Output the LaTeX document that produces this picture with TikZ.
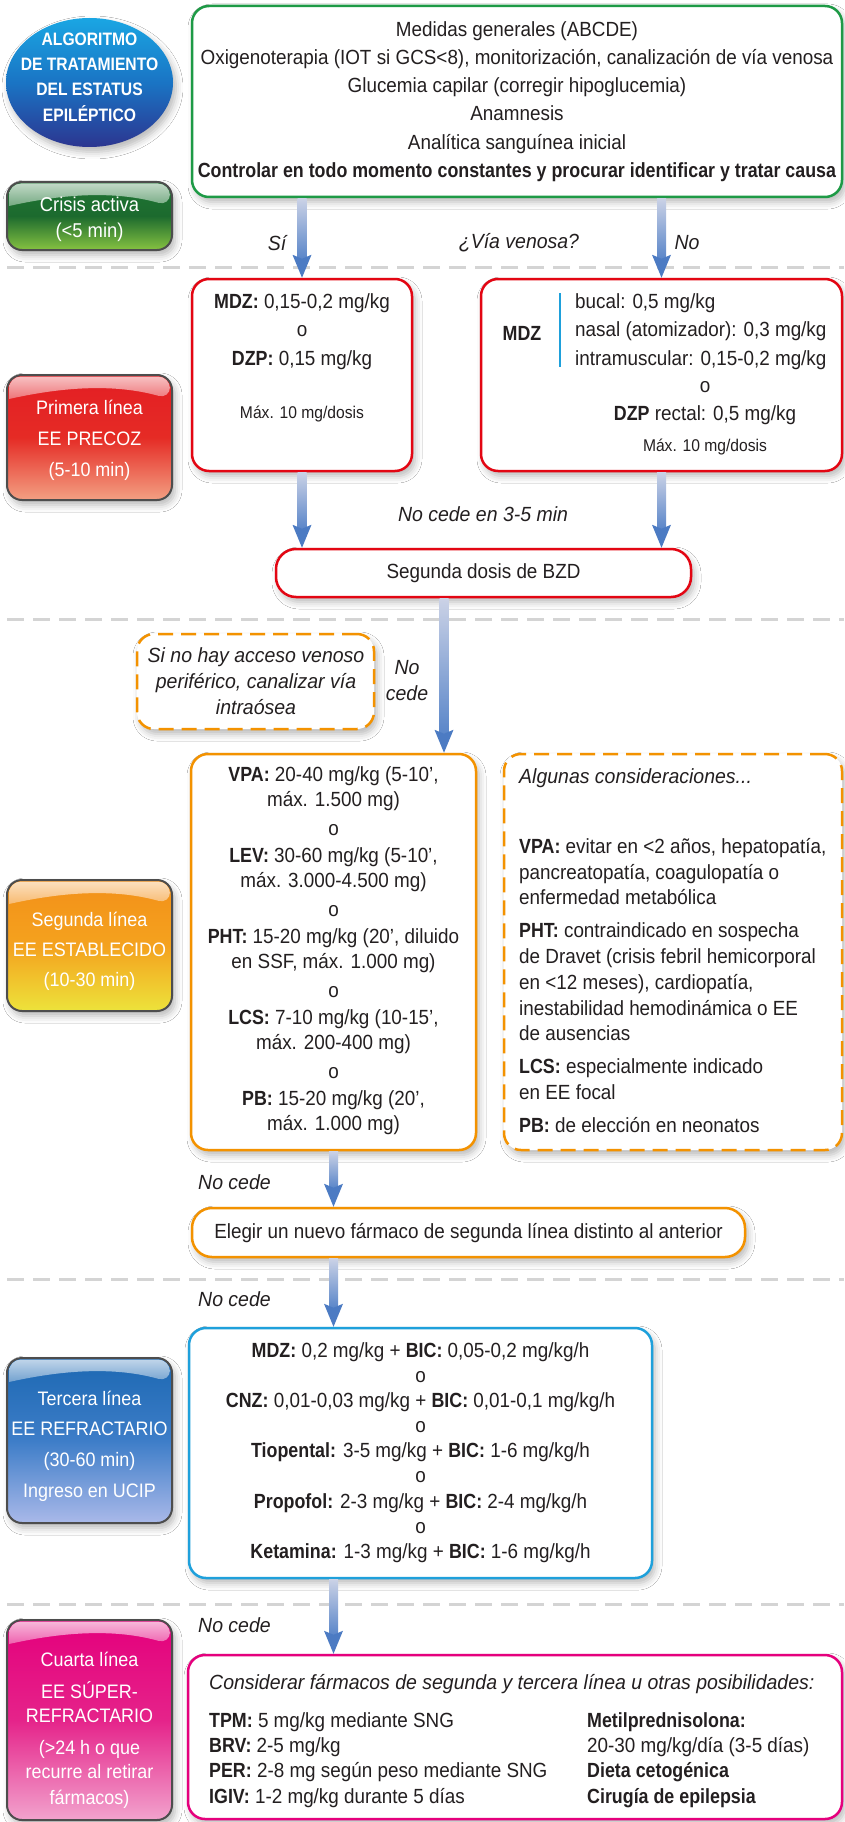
\documentclass[tikz,border=0pt]{standalone}
\usepackage{fontspec}
\setmainfont{Liberation Sans}[
  UprightFeatures={FakeStretch=0.92},
  ItalicFeatures={FakeStretch=0.95},
  BoldFeatures={FakeStretch=0.87},
  BoldItalicFeatures={FakeStretch=0.87}]
\usetikzlibrary{calc,shapes.geometric,shadows.blur}

\definecolor{txt}{HTML}{231F20}
\definecolor{cgreen}{HTML}{1E9A46}
\definecolor{cred}{HTML}{E30613}
\definecolor{corange}{HTML}{F39200}
\definecolor{cblue}{HTML}{1EA0DB}
\definecolor{cmag}{HTML}{E5007D}
\definecolor{dashgray}{HTML}{D4D4D4}
\definecolor{arrowtop}{HTML}{CBD2E6}
\definecolor{arrowbot}{HTML}{5A86C9}
\definecolor{arrowhead}{HTML}{4C7BC3}
\definecolor{stageedge}{HTML}{4D4D4D}
% title disc
\definecolor{discA}{HTML}{1AA6E3}
\definecolor{discB}{HTML}{1A74C4}
\definecolor{discC}{HTML}{2C3590}
% stage label shadings (top / middle / bottom)
\definecolor{grnA}{HTML}{1F7534}
\definecolor{grnB}{HTML}{1C6A2E}
\definecolor{grnC}{HTML}{86C241}
\definecolor{redA}{HTML}{E31E24}
\definecolor{redB}{HTML}{E52B25}
\definecolor{redC}{HTML}{F3A083}
\definecolor{orgA}{HTML}{F39019}
\definecolor{orgB}{HTML}{F4A21E}
\definecolor{orgC}{HTML}{EDE33B}
\definecolor{bluA}{HTML}{1C68B2}
\definecolor{bluB}{HTML}{3D7DC8}
\definecolor{bluC}{HTML}{AAB9E9}
\definecolor{magA}{HTML}{E4007C}
\definecolor{magB}{HTML}{E5238A}
\definecolor{magC}{HTML}{F2A3CD}

\tikzset{
  softshadow/.style={blur shadow={shadow xshift=3pt, shadow yshift=-5pt,
      shadow blur radius=7pt, shadow opacity=28}},
  flowbox/.style={draw, line width=2.5pt, rounded corners=17pt, fill=white,
      inner sep=0pt, softshadow},
  dashbox/.style={flowbox, dash pattern=on 15pt off 8pt},
  body/.style={text=txt, font=\fontsize{20.5}{25}\selectfont, inner sep=0pt, align=center},
  smallnote/.style={text=txt, font=\fontsize{17}{20}\selectfont, inner sep=0pt},
  note/.style={text=txt, font=\fontsize{20.5}{26}\selectfont\itshape, inner sep=0pt, align=center},
  sep/.style={draw=dashgray, line width=3pt, dash pattern=on 17pt off 9pt},
  stage/.style={draw=stageedge, line width=2pt, rounded corners=15pt, inner sep=0pt,
      minimum width=165pt, softshadow},
  stagetext/.style={text=white, inner sep=0pt, align=center,
      font=\fontsize{19.5}{30}\selectfont},
  titledisc/.style={ellipse, minimum width=167pt, minimum height=129pt, inner sep=0pt,
      top color=discA, bottom color=discC, middle color=discB, softshadow},
}

% glossy highlight band across the top of a stage label
\newcommand\gloss[2]{%
  \shade[top color=white!72!#2, bottom color=white!38!#2]
    ($(#1.north west)+(3,25)$) [rounded corners=12pt]
    -- ($(#1.north west)+(3,2.5)$) -- ($(#1.north east)+(-3,2.5)$)
    -- ($(#1.north east)+(-3,25)$) [sharp corners]
    .. controls ($(#1.north east)+(-50,12)$) and ($(#1.north west)+(70,10)$)
    .. ($(#1.north west)+(3,25)$) -- cycle;
}

% thick shaded flow arrow from #1 down to the tip #2
\newcommand\flowarrow[2]{%
  \shade[top color=arrowtop, bottom color=arrowbot]
    ($(#1)+(-4.5,0)$) rectangle ($(#2)+(4.5,-19)$);
  \fill[arrowhead] ($(#2)+(-9.5,-23)$) -- (#2) -- ($(#2)+(9.5,-23)$)
    -- ($(#2)+(0,-19)$) -- cycle;
}

\begin{document}
\begin{tikzpicture}[x=1pt,y=-1pt]
\useasboundingbox (0,0) rectangle (844,1822);
\fill[white] (0,0) rectangle (844,1822);

% phase separators
\foreach \yy in {267,619,1279,1604} \draw[sep] (7,\yy) -- (844,\yy);

% ---------------- title disc ----------------
\node[titledisc] (title) at (89.5,82.5) {};
\node[stagetext, font=\fontsize{18}{25.3}\selectfont\bfseries] (titleT) at (89.5,77)
  {ALGORITMO\\DE TRATAMIENTO\\DEL ESTATUS\\EPILÉPTICO};

% ---------------- stage labels ----------------
\node[stage, top color=grnA, bottom color=grnC, middle color=grnB,
      minimum height=68pt] (stCrisis) at (89.5,216) {};
\gloss{stCrisis}{grnA}
\node[stagetext, font=\fontsize{20}{26}\selectfont] (stCrisisT) at (89.5,219)
  {Crisis activa\\(<5 min)};

\node[stage, top color=redA, bottom color=redC, middle color=redB,
      minimum height=125pt] (stFirst) at (89.5,437.5) {};
\gloss{stFirst}{redA}
\node[stagetext, font=\fontsize{19.5}{31}\selectfont] (stFirstT) at (89.5,440)
  {Primera línea\\EE PRECOZ\\(5-10 min)};

\node[stage, top color=orgA, bottom color=orgC, middle color=orgB,
      minimum height=131pt] (stSecond) at (89.5,945.5) {};
\gloss{stSecond}{orgA}
\node[stagetext] (stSecondT) at (89.5,951)
  {Segunda línea\\EE ESTABLECIDO\\(10-30 min)};

\node[stage, top color=bluA, bottom color=bluC, middle color=bluB,
      minimum height=165pt] (stThird) at (89.5,1440.5) {};
\gloss{stThird}{bluA}
\node[stagetext, font=\fontsize{19.5}{30.7}\selectfont] (stThirdT) at (89.5,1446)
  {Tercera línea\\EE REFRACTARIO\\(30-60 min)\\Ingreso en UCIP};

\node[stage, top color=magA, bottom color=magC, middle color=magB,
      minimum height=200pt] (stFourth) at (89.5,1720) {};
\gloss{stFourth}{magA}
\node[stagetext, font=\fontsize{19.5}{24}\selectfont] (stFourthT) at (89.5,1730)
  {Cuarta línea\\[8pt]EE SÚPER-\\REFRACTARIO\\[8pt](>24 h o que\\recurre al retirar\\[2pt]fármacos)};

% ---------------- general measures ----------------
\node[flowbox, draw=cgreen, minimum width=650pt, minimum height=191pt] (general) at (517,101.5) {};
\node[body, font=\fontsize{20.5}{28.2}\selectfont] (generalT) at (517,101.5)
  {Medidas generales (ABCDE)\\
   Oxigenoterapia (IOT si GCS<8), monitorización, canalización de vía venosa\\
   Glucemia capilar (corregir hipoglucemia)\\
   Anamnesis\\
   Analítica sanguínea inicial\\
   \textbf{Controlar en todo momento constantes y procurar identificar y tratar causa}};

\node[note] (lblSi) at (277,243) {Sí};
\node[note] (lblVia) at (519,243) {¿Vía venosa?};
\node[note] (lblNo) at (687,243) {No};

% ---------------- first line ----------------
\node[flowbox, draw=cred, minimum width=220pt, minimum height=192pt] (mdzA) at (302,375) {};
\node[body, font=\fontsize{20.5}{28.5}\selectfont] (mdzAT) at (302,331.5)
  {\textbf{MDZ:} 0,15-0,2 mg/kg\\o\\\textbf{DZP:} 0,15 mg/kg};
\node[smallnote] (mdzAmax) at (302,414) {Máx. 10 mg/dosis};

\node[flowbox, draw=cred, minimum width=361pt, minimum height=192pt] (mdzB) at (661.5,375) {};
\node[body, font=\fontsize{20.5}{25}\selectfont\bfseries] (mdzBlbl) at (522,333) {MDZ};
\draw[cblue, line width=2.5pt] (560,293) -- (560,367);
\node[body, align=left, anchor=west, font=\fontsize{20.5}{28.5}\selectfont] (mdzBroutes) at (575,331.5)
  {bucal: 0,5 mg/kg\\nasal (atomizador): 0,3 mg/kg\\intramuscular: 0,15-0,2 mg/kg};
\node[body, font=\fontsize{20.5}{28}\selectfont] (mdzBdzp) at (705,403)
  {o\\\textbf{DZP} rectal: 0,5 mg/kg};
\node[smallnote] (mdzBmax) at (705,447) {Máx. 10 mg/dosis};

\node[note] (lblCede1) at (483,514) {No cede en 3-5 min};

\node[flowbox, draw=cred, rounded corners=20pt, minimum width=415pt, minimum height=48pt] (bzd) at (483.5,573) {};
\node[body] (bzdT) at (483.5,573) {Segunda dosis de BZD};

% ---------------- second line ----------------
\node[dashbox, draw=corange, minimum width=237pt, minimum height=95pt] (io) at (255.5,681.5) {};
\node[note] (ioT) at (256,681) {Si no hay acceso venoso\\periférico, canalizar vía\\intraósea};
\node[note] (lblCede2) at (407,681) {No\\cede};

\node[flowbox, draw=corange, minimum width=285pt, minimum height=396pt] (vpa) at (333.5,952) {};
\node[body] (vpaT) at (333.5,951)
  {\textbf{VPA:} 20-40 mg/kg (5-10’,\\máx. 1.500 mg)\\[4pt]o\\[2pt]%
   \textbf{LEV:} 30-60 mg/kg (5-10’,\\máx. 3.000-4.500 mg)\\[4pt]o\\[2pt]%
   \textbf{PHT:} 15-20 mg/kg (20’, diluido\\en SSF, máx. 1.000 mg)\\[4pt]o\\[2pt]%
   \textbf{LCS:} 7-10 mg/kg (10-15’,\\máx. 200-400 mg)\\[4pt]o\\[2pt]%
   \textbf{PB:} 15-20 mg/kg (20’,\\máx. 1.000 mg)};

\node[dashbox, draw=corange, minimum width=338pt, minimum height=396pt] (cons) at (673,952) {};
\node[note, anchor=west] (consHead) at (519,778) {Algunas consideraciones...};
\node[body, align=left, anchor=west, font=\fontsize{20.5}{25.7}\selectfont] (consT) at (519,985.5)
  {\textbf{VPA:} evitar en <2 años, hepatopatía,\\pancreatopatía, coagulopatía o\\enfermedad metabólica\\[7.3pt]%
   \textbf{PHT:} contraindicado en sospecha\\de Dravet (crisis febril hemicorporal\\en <12 meses), cardiopatía,\\inestabilidad hemodinámica o EE\\de ausencias\\[7.3pt]%
   \textbf{LCS:} especialmente indicado\\en EE focal\\[7.3pt]%
   \textbf{PB:} de elección en neonatos};

\node[note, anchor=west] (lblCede3) at (198,1182) {No cede};

\node[flowbox, draw=corange, rounded corners=20pt, minimum width=553pt, minimum height=49pt] (eleg) at (468.5,1232.5) {};
\node[body] (elegT) at (468.5,1233) {Elegir un nuevo fármaco de segunda línea distinto al anterior};

% ---------------- third line ----------------
\node[note, anchor=west] (lblCede4) at (198,1299) {No cede};

\node[flowbox, draw=cblue, minimum width=463pt, minimum height=250pt] (ter) at (420.5,1453) {};
\node[body, font=\fontsize{20.5}{25.1}\selectfont] (terT) at (420.5,1452.5)
  {\textbf{MDZ:} 0,2 mg/kg + \textbf{BIC:} 0,05-0,2 mg/kg/h\\o\\
   \textbf{CNZ:} 0,01-0,03 mg/kg + \textbf{BIC:} 0,01-0,1 mg/kg/h\\o\\
   \textbf{Tiopental:} 3-5 mg/kg + \textbf{BIC:} 1-6 mg/kg/h\\o\\
   \textbf{Propofol:} 2-3 mg/kg + \textbf{BIC:} 2-4 mg/kg/h\\o\\
   \textbf{Ketamina:} 1-3 mg/kg + \textbf{BIC:} 1-6 mg/kg/h};

% ---------------- fourth line ----------------
\node[note, anchor=west] (lblCede5) at (198,1625) {No cede};

\node[flowbox, draw=cmag, minimum width=654pt, minimum height=164pt] (cua) at (515,1737) {};
\node[note, anchor=west] (cuaHead) at (209,1684)
  {Considerar fármacos de segunda y tercera línea u otras posibilidades:};
\node[body, align=left, anchor=west, font=\fontsize{20.5}{25.3}\selectfont] (cuaL) at (209,1760)
  {\textbf{TPM:} 5 mg/kg mediante SNG\\\textbf{BRV:} 2-5 mg/kg\\
   \textbf{PER:} 2-8 mg según peso mediante SNG\\\textbf{IGIV:} 1-2 mg/kg durante 5 días};
\node[body, align=left, anchor=west, font=\fontsize{20.5}{25.3}\selectfont] (cuaR) at (587,1760)
  {\textbf{Metilprednisolona:}\\20-30 mg/kg/día (3-5 días)\\
   \textbf{Dieta cetogénica}\\\textbf{Cirugía de epilepsia}};

% ---------------- flow arrows ----------------
\coordinate (aSiS) at (general.south -| mdzA.north);
\flowarrow{aSiS}{mdzA.north}
\coordinate (aNoS) at (general.south -| mdzB.north);
\flowarrow{aNoS}{mdzB.north}
\coordinate (aL) at (mdzA.south |- bzd.north);
\flowarrow{mdzA.south}{aL}
\coordinate (aR) at (mdzB.south |- bzd.north);
\flowarrow{mdzB.south}{aR}
\coordinate (a2e) at ([xshift=110.5pt]vpa.north);
\coordinate (a2s) at (bzd.south -| a2e);
\flowarrow{a2s}{a2e}
\coordinate (a3e) at (vpa.south |- eleg.north);
\flowarrow{vpa.south}{a3e}
\coordinate (a4s) at (eleg.south -| vpa.south);
\coordinate (a4e) at (ter.north -| vpa.south);
\flowarrow{a4s}{a4e}
\coordinate (a5s) at (ter.south -| vpa.south);
\coordinate (a5e) at (cua.north -| vpa.south);
\flowarrow{a5s}{a5e}
\end{tikzpicture}
\end{document}
